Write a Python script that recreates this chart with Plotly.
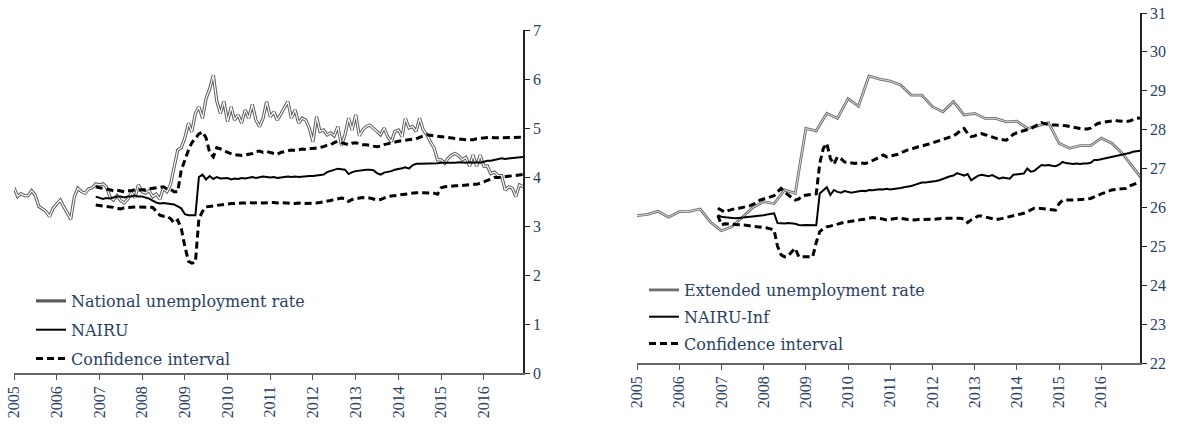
import pandas as pd
import plotly.graph_objects as go

# ---------------- data ----------------
months = pd.date_range("2005-01-01", "2016-12-01", freq="MS")
model_months = months[23:]
quarters = pd.date_range("2005-01-01", "2017-01-01", freq="QS")
year_ticks = [str(y) for y in range(2005, 2017)]

national_rate = [
    3.78, 3.60, 3.66, 3.62, 3.62, 3.72, 3.63, 3.40, 3.35, 3.30, 3.19, 3.36,
    3.45, 3.53, 3.40, 3.28, 3.14, 3.60, 3.77, 3.70, 3.67, 3.76, 3.78, 3.86,
    3.84, 3.86, 3.80, 3.60, 3.53, 3.62, 3.52, 3.47, 3.55, 3.68, 3.58, 3.84,
    3.70, 3.67, 3.72, 3.60, 3.65, 3.55, 3.77, 3.70, 3.85, 4.20, 4.55, 4.60,
    4.80, 5.10, 4.92, 5.30, 5.43, 5.20, 5.60, 5.80, 6.08, 5.55, 5.30, 5.54,
    5.13, 5.43, 5.16, 5.27, 5.10, 5.37, 5.20, 5.48, 5.16, 5.03, 5.20, 5.54,
    5.23, 5.33, 5.16, 5.28, 5.40, 5.54, 5.20, 5.37, 5.10, 5.20, 5.16, 5.00,
    4.72, 5.23, 4.93, 4.96, 4.86, 4.90, 4.84, 5.03, 4.65, 4.86, 5.20, 4.96,
    5.27, 4.84, 4.96, 5.03, 5.06, 5.00, 4.93, 4.86, 5.00, 4.82, 4.72, 4.93,
    4.96, 4.82, 5.20, 5.00, 5.03, 4.93, 5.20, 4.96, 4.86, 4.72, 4.60, 4.35,
    4.35, 4.28, 4.38, 4.45, 4.48, 4.43, 4.35, 4.40, 4.22, 4.45, 4.22, 4.45,
    4.22, 4.22, 4.07, 4.10, 4.03, 4.03, 3.73, 3.80, 3.77, 3.60, 3.84, 3.80,
]

nairu = [
    3.60,
    3.58, 3.55, 3.57, 3.56, 3.58, 3.60, 3.60, 3.58, 3.60, 3.60, 3.62, 3.60,
    3.60, 3.58, 3.56, 3.52, 3.48, 3.46, 3.47, 3.46, 3.45, 3.44, 3.40, 3.36,
    3.24, 3.22, 3.22, 3.22, 4.00, 4.05, 3.95, 4.02, 3.96, 4.00, 3.97, 3.98,
    3.98, 3.95, 3.97, 3.96, 3.98, 3.97, 3.99, 4.00, 3.98, 4.00, 4.01, 4.00,
    3.99, 4.00, 3.98, 3.99, 4.00, 4.01, 4.00, 4.01, 4.00, 4.01, 4.02, 4.02,
    4.02, 4.03, 4.04, 4.05, 4.10, 4.12, 4.14, 4.17, 4.16, 4.15, 4.06, 4.10,
    4.12, 4.13, 4.15, 4.15, 4.15, 4.14, 4.08, 4.05, 4.09, 4.10, 4.12, 4.15,
    4.16, 4.18, 4.20, 4.17, 4.24, 4.27, 4.27, 4.27, 4.27, 4.28, 4.27, 4.28,
    4.29, 4.29, 4.28, 4.29, 4.29, 4.30, 4.29, 4.29, 4.30, 4.29, 4.30, 4.29,
    4.31, 4.33, 4.33, 4.35, 4.36, 4.38, 4.37, 4.38, 4.39, 4.39, 4.40, 4.41,
]

nairu_upper = [
    3.80,
    3.78, 3.76, 3.75, 3.74, 3.72, 3.73, 3.72, 3.70, 3.72, 3.72, 3.74, 3.73,
    3.74, 3.74, 3.76, 3.77, 3.78, 3.79, 3.80, 3.76, 3.75, 3.70, 3.70, 4.14,
    4.35, 4.55, 4.70, 4.79, 4.88, 4.92, 4.80, 4.50, 4.41, 4.60, 4.58, 4.55,
    4.50, 4.47, 4.45, 4.45, 4.44, 4.45, 4.46, 4.48, 4.52, 4.53, 4.50, 4.52,
    4.50, 4.48, 4.46, 4.50, 4.52, 4.54, 4.55, 4.54, 4.56, 4.57, 4.56, 4.58,
    4.58, 4.59, 4.60, 4.62, 4.65, 4.66, 4.70, 4.73, 4.70, 4.68, 4.66, 4.69,
    4.70, 4.68, 4.66, 4.66, 4.64, 4.63, 4.62, 4.63, 4.66, 4.68, 4.70, 4.72,
    4.73, 4.74, 4.75, 4.76, 4.76, 4.78, 4.81, 4.83, 4.86, 4.85, 4.84, 4.83,
    4.83, 4.82, 4.81, 4.80, 4.79, 4.78, 4.77, 4.76, 4.76, 4.76, 4.78, 4.79,
    4.80, 4.81, 4.81, 4.80, 4.80, 4.80, 4.80, 4.81, 4.81, 4.81, 4.81, 4.81,
]

nairu_lower = [
    3.43,
    3.42, 3.42, 3.40, 3.39, 3.38, 3.36, 3.35, 3.37, 3.38, 3.39, 3.39, 3.39,
    3.39, 3.39, 3.38, 3.38, 3.30, 3.22, 3.20, 3.20, 3.15, 3.06, 3.12, 2.95,
    2.58, 2.28, 2.24, 2.26, 3.15, 3.30, 3.39, 3.40, 3.42, 3.43, 3.44, 3.45,
    3.45, 3.46, 3.46, 3.47, 3.47, 3.47, 3.48, 3.47, 3.48, 3.48, 3.47, 3.48,
    3.48, 3.48, 3.47, 3.48, 3.47, 3.47, 3.46, 3.46, 3.47, 3.46, 3.46, 3.46,
    3.46, 3.47, 3.48, 3.49, 3.51, 3.52, 3.54, 3.55, 3.57, 3.56, 3.50, 3.54,
    3.56, 3.57, 3.58, 3.58, 3.57, 3.55, 3.53, 3.54, 3.57, 3.60, 3.61, 3.62,
    3.63, 3.64, 3.66, 3.67, 3.68, 3.68, 3.68, 3.68, 3.68, 3.68, 3.67, 3.65,
    3.78, 3.80, 3.81, 3.82, 3.82, 3.82, 3.83, 3.84, 3.84, 3.85, 3.85, 3.87,
    3.90, 3.93, 3.96, 3.99, 3.99, 4.00, 4.01, 4.01, 4.02, 4.03, 4.04, 4.05,
]

extended_rate = [
    25.79, 25.82, 25.90, 25.75, 25.89, 25.90, 25.96, 25.62, 25.40, 25.50,
    25.75, 26.00, 26.15, 26.10, 26.45, 26.36, 28.03, 27.97, 28.42, 28.29,
    28.80, 28.60, 29.38, 29.30, 29.25, 29.15, 28.89, 28.89, 28.59, 28.46,
    28.72, 28.38, 28.42, 28.29, 28.29, 28.20, 28.22, 28.03, 28.10, 28.18,
    27.65, 27.52, 27.59, 27.59, 27.78, 27.65, 27.39, 27.05, 26.68,
]

nairu_inf = [
    25.80,
    25.76, 25.75, 25.74, 25.73, 25.72, 25.73, 25.74, 25.75, 25.76, 25.76, 25.77, 25.78,
    25.80, 25.82, 25.84, 25.85, 25.60, 25.59, 25.59, 25.60, 25.59, 25.58, 25.55, 25.54,
    25.55, 25.54, 25.54, 25.54, 26.36, 26.45, 26.52, 26.32, 26.45, 26.40, 26.38, 26.42,
    26.40, 26.38, 26.40, 26.42, 26.43, 26.42, 26.45, 26.44, 26.45, 26.47, 26.46, 26.48,
    26.46, 26.47, 26.48, 26.50, 26.52, 26.53, 26.55, 26.58, 26.62, 26.64, 26.64, 26.65,
    26.66, 26.68, 26.70, 26.74, 26.78, 26.80, 26.82, 26.88, 26.85, 26.82, 26.86, 26.70,
    26.76, 26.82, 26.84, 26.82, 26.80, 26.83, 26.78, 26.74, 26.77, 26.76, 26.74, 26.84,
    26.85, 26.86, 26.87, 27.00, 26.92, 26.94, 27.02, 27.09, 27.08, 27.09, 27.07, 27.06,
    27.10, 27.17, 27.14, 27.13, 27.12, 27.13, 27.12, 27.13, 27.13, 27.15, 27.22, 27.22,
    27.24, 27.25, 27.28, 27.30, 27.31, 27.33, 27.35, 27.37, 27.40, 27.43, 27.45, 27.46,
]

nairu_inf_upper = [
    25.98,
    25.92, 25.88, 25.92, 25.95, 25.97, 25.98, 26.00, 26.02, 26.04, 26.08, 26.12, 26.19,
    26.22, 26.26, 26.28, 26.30, 26.40, 26.49, 26.40, 26.32, 26.25, 26.19, 26.22, 26.30,
    26.32, 26.33, 26.34, 26.35, 27.13, 27.52, 27.65, 27.26, 27.11, 27.30, 27.25, 27.17,
    27.15, 27.13, 27.13, 27.15, 27.14, 27.13, 27.16, 27.20, 27.25, 27.30, 27.35, 27.30,
    27.32, 27.33, 27.36, 27.40, 27.45, 27.48, 27.50, 27.54, 27.56, 27.58, 27.60, 27.63,
    27.66, 27.69, 27.72, 27.75, 27.78, 27.80, 27.84, 27.90, 27.98, 28.03, 27.90, 27.82,
    27.84, 27.88, 27.90, 27.87, 27.84, 27.80, 27.77, 27.75, 27.74, 27.73, 27.80, 27.88,
    27.92, 27.95, 27.97, 28.00, 28.03, 28.08, 28.14, 28.18, 28.15, 28.13, 28.12, 28.12,
    28.12, 28.11, 28.10, 28.08, 28.05, 28.03, 28.03, 28.02, 28.02, 28.04, 28.10, 28.16,
    28.18, 28.20, 28.22, 28.23, 28.24, 28.22, 28.21, 28.21, 28.22, 28.26, 28.29, 28.30,
]

nairu_inf_lower = [
    25.80,
    25.55, 25.58, 25.58, 25.57, 25.56, 25.56, 25.55, 25.54, 25.53, 25.52, 25.51, 25.50,
    25.49, 25.47, 25.45, 25.42, 25.00, 24.78, 24.73, 24.75, 24.86, 24.95, 24.73, 24.73,
    24.73, 24.73, 24.73, 25.10, 25.38, 25.45, 25.50, 25.52, 25.55, 25.58, 25.60, 25.62,
    25.63, 25.65, 25.66, 25.68, 25.69, 25.70, 25.72, 25.74, 25.73, 25.72, 25.70, 25.68,
    25.70, 25.71, 25.72, 25.72, 25.70, 25.69, 25.69, 25.68, 25.69, 25.69, 25.69, 25.69,
    25.69, 25.70, 25.71, 25.72, 25.72, 25.72, 25.72, 25.72, 25.72, 25.70, 25.61, 25.68,
    25.74, 25.78, 25.78, 25.76, 25.74, 25.71, 25.69, 25.70, 25.72, 25.74, 25.76, 25.78,
    25.80, 25.82, 25.85, 25.89, 25.93, 25.98, 25.98, 25.97, 25.97, 25.95, 25.94, 25.93,
    26.10, 26.19, 26.19, 26.18, 26.19, 26.20, 26.20, 26.21, 26.22, 26.23, 26.27, 26.32,
    26.35, 26.38, 26.42, 26.45, 26.46, 26.47, 26.48, 26.49, 26.55, 26.58, 26.63, 26.66,
]

# ---------------- style ----------------
TEXT = "#2a3f5f"
TICK_FONT = "Liberation Serif"
LEG_FONT = "DejaVu Serif"
DASH = "7px,4px"

fig = go.Figure()

# Left panel
fig.add_trace(go.Scatter(x=months, y=national_rate, mode="lines", name="National unemployment rate",
                         line=dict(color="#5a5a5a", width=3.2), xaxis="x", yaxis="y",
                         legend="legend", legendgroup="a1"))
fig.add_trace(go.Scatter(x=months, y=national_rate, mode="lines", showlegend=False, hoverinfo="skip",
                         line=dict(color="white", width=1.2), xaxis="x", yaxis="y", legendgroup="a1"))
fig.add_trace(go.Scatter(x=model_months, y=nairu, mode="lines", name="NAIRU",
                         line=dict(color="black", width=2), xaxis="x", yaxis="y",
                         legend="legend", legendgroup="a2"))
fig.add_trace(go.Scatter(x=model_months, y=nairu_upper, mode="lines", name="Confidence interval",
                         line=dict(color="black", width=3, dash=DASH), xaxis="x", yaxis="y",
                         legend="legend", legendgroup="a3"))
fig.add_trace(go.Scatter(x=model_months, y=nairu_lower, mode="lines", showlegend=False,
                         line=dict(color="black", width=3, dash=DASH), xaxis="x", yaxis="y",
                         legendgroup="a3"))

# Right panel
fig.add_trace(go.Scatter(x=quarters, y=extended_rate, mode="lines", name="Extended unemployment rate",
                         line=dict(color="#6e6e6e", width=2.8), xaxis="x2", yaxis="y2",
                         legend="legend2", legendgroup="b1"))
fig.add_trace(go.Scatter(x=quarters, y=extended_rate, mode="lines", showlegend=False, hoverinfo="skip",
                         line=dict(color="#e8e8e8", width=0.9), xaxis="x2", yaxis="y2", legendgroup="b1"))
fig.add_trace(go.Scatter(x=model_months, y=nairu_inf, mode="lines", name="NAIRU-Inf",
                         line=dict(color="black", width=2), xaxis="x2", yaxis="y2",
                         legend="legend2", legendgroup="b2"))
fig.add_trace(go.Scatter(x=model_months, y=nairu_inf_upper, mode="lines", name="Confidence interval",
                         line=dict(color="black", width=3, dash=DASH), xaxis="x2", yaxis="y2",
                         legend="legend2", legendgroup="b3"))
fig.add_trace(go.Scatter(x=model_months, y=nairu_inf_lower, mode="lines", showlegend=False,
                         line=dict(color="black", width=3, dash=DASH), xaxis="x2", yaxis="y2",
                         legendgroup="b3"))

xcommon = dict(type="date", range=["2005-01-01", "2016-12-01"], tick0="2005-01-01", dtick="M12",
               tickformat="%Y", tickangle=-90, ticks="outside", ticklen=5, tickcolor="#555555",
               showline=True, linecolor="#666666", linewidth=1.5, showgrid=False, zeroline=False,
               automargin=False, tickfont=dict(family=TICK_FONT, size=16, color=TEXT))
ycommon = dict(side="right", ticks="outside", ticklen=5, tickcolor="#222222", showline=True,
               linecolor="#222222", linewidth=1.5, showgrid=False, zeroline=False, dtick=1,
               automargin=False, tickfont=dict(family=TICK_FONT, size=16, color=TEXT))

fig.update_layout(
    width=1183, height=430,
    margin=dict(l=0, r=0, t=0, b=0, autoexpand=False),
    paper_bgcolor="white", plot_bgcolor="white",
    hovermode=False,
    xaxis=dict(xcommon, domain=[14 / 1183, 523 / 1183], anchor="y"),
    yaxis=dict(ycommon, domain=[57 / 430, 400 / 430], range=[0, 7], anchor="x"),
    xaxis2=dict(xcommon, domain=[637 / 1183, 1140 / 1183], anchor="y2"),
    yaxis2=dict(ycommon, domain=[67 / 430, 417 / 430], range=[22, 31], anchor="x2"),
    legend=dict(x=31 / 1183, y=(430 - 284) / 430, xanchor="left", yanchor="top",
                bgcolor="rgba(0,0,0,0)", font=dict(family=LEG_FONT, size=16, color=TEXT),
                tracegroupgap=5, traceorder="grouped"),
    legend2=dict(x=644 / 1183, y=(430 - 273) / 430, xanchor="left", yanchor="top",
                 bgcolor="rgba(0,0,0,0)", font=dict(family=LEG_FONT, size=16, color=TEXT),
                 tracegroupgap=3, traceorder="grouped"),
    showlegend=True,
)

fig.write_html("out.html", config={"displayModeBar": False},
               post_script="document.body.style.margin='0px';")
